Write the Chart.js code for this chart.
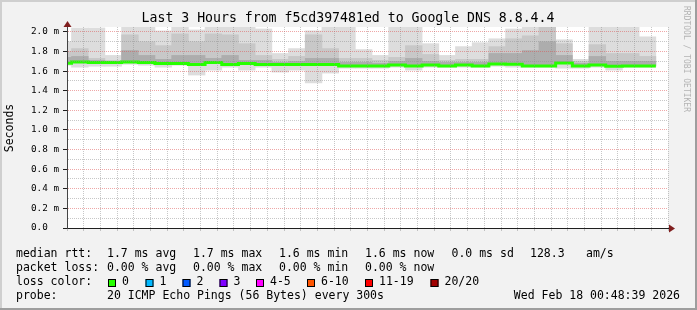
<!DOCTYPE html>
<html>
<head>
<meta charset="utf-8">
<title>smokeping</title>
<script src="https://cdn.jsdelivr.net/npm/chart.js@4.4.1/dist/chart.umd.min.js"></script>
<style>
  html, body { margin: 0; padding: 0; background: #f2f2f2; }
  canvas { display: block; }
</style>
</head>
<body>
<canvas id="smoke" width="697" height="310"></canvas>
<script>
// start of each 5 min step, in minutes after 21:00
const colStart = [45, 50, 55, 60, 65, 70, 75, 80, 85, 90, 95, 100, 105, 110, 115, 120, 125, 130,
                  135, 140, 145, 150, 155, 160, 165, 170, 175, 180, 185, 190, 195, 200, 205, 210, 215, 220];

// smoke (ms): outer band top/bottom, inner bands top, median rtt
const smokeMax = [1.90, 2.04, 2.04, 1.76, 2.05, 2.05, 2.01, 2.05, 2.02, 2.05, 2.05, 2.05, 2.03, 1.78, 1.83, 2.01, 2.05, 2.05,
                  1.82, 1.76, 2.05, 2.05, 1.88, 1.76, 1.85, 1.89, 1.93, 2.03, 2.05, 2.05, 1.92, 1.72, 2.05, 2.05, 2.05, 1.95];
const smokeMin = [1.66, 1.64, 1.65, 1.65, 1.67, 1.66, 1.64, 1.66, 1.56, 1.61, 1.64, 1.61, 1.64, 1.59, 1.61, 1.48, 1.58, 1.63,
                  1.63, 1.63, 1.64, 1.61, 1.64, 1.64, 1.64, 1.64, 1.65, 1.64, 1.64, 1.64, 1.63, 1.63, 1.64, 1.61, 1.64, 1.64];
const smokeMid = [1.80, 1.83, 1.73, 1.71, 1.97, 1.90, 1.86, 1.98, 1.90, 1.98, 1.97, 1.88, 1.76, 1.72, 1.75, 1.97, 1.83, 1.73,
                  1.73, 1.71, 1.74, 1.86, 1.77, 1.71, 1.72, 1.72, 1.85, 1.93, 1.96, 2.05, 1.88, 1.70, 1.87, 1.78, 1.78, 1.75];
const smokeDark = [1.74, 1.75, 1.71, 1.70, 1.81, 1.76, 1.72, 1.76, 1.76, 1.73, 1.76, 1.71, 1.71, 1.69, 1.70, 1.73, 1.73, 1.69,
                   1.69, 1.68, 1.70, 1.73, 1.70, 1.69, 1.69, 1.69, 1.78, 1.78, 1.81, 1.90, 1.76, 1.68, 1.75, 1.70, 1.70, 1.70];
const medianRtt = [1.680, 1.694, 1.687, 1.687, 1.694, 1.687, 1.677, 1.677, 1.668, 1.687, 1.668, 1.677, 1.668, 1.668, 1.668, 1.668, 1.668, 1.653,
                   1.653, 1.653, 1.663, 1.653, 1.663, 1.653, 1.663, 1.653, 1.673, 1.670, 1.653, 1.653, 1.684, 1.653, 1.663, 1.650, 1.653, 1.653];

const xTickLabels = ['22:00', '22:20', '22:40', '23:00', '23:20', '23:40', '00:00', '00:20', '00:40'];
const yTickLabels = ['0.0  ', '0.2 m', '0.4 m', '0.6 m', '0.8 m', '1.0 m', '1.2 m', '1.4 m', '1.6 m', '1.8 m', '2.0 m'];

const rttStats = ['1.7 ms avg', '1.7 ms max', '1.6 ms min', '1.6 ms now', '0.0 ms sd', '128.3', 'am/s'];
const lossStats = ['0.00 % avg', '0.00 % max', '0.00 % min', '0.00 % now'];
const lossLabels = ['0', '1', '2', '3', '4-5', '6-10', '11-19', '20/20'];
const lossColors = ['#26ff00', '#00b8ff', '#0059ff', '#7e00ff', '#ff00ff', '#ff5500', '#ff0000', '#a10000'];

const MONO = "'DejaVu Sans Mono', monospace";
const T_MIN = 48.65, T_MAX = 228.65;   // 21:48:39 .. 00:48:39
const MGRID = 'rgba(222,79,79,0.5)';
const GRID = 'rgba(143,143,143,0.5)';

function band(lo, hi) {
    return colStart.map((t, i) => ({ x: t + 2.5, y: [lo[i], hi[i]] }));
}

const medianPts = colStart.map((t, i) => ({ x: t, y: medianRtt[i] }));
medianPts.push({ x: colStart[colStart.length - 1] + 5, y: medianRtt[medianRtt.length - 1] });

const barStyle = { type: 'bar', grouped: false, barPercentage: 1, categoryPercentage: 1, borderWidth: 0, clip: 0 };

// background, frame and all the rrdtool text
const rrdDecor = {
    id: 'rrdDecor',
    beforeDraw(chart) {
        const { ctx, chartArea: a } = chart;
        ctx.save();
        ctx.fillStyle = '#f2f2f2';
        ctx.fillRect(0, 0, 697, 310);
        ctx.fillStyle = '#cfcfcf';
        ctx.fillRect(0, 0, 697, 2);
        ctx.fillRect(0, 0, 2, 310);
        ctx.fillStyle = '#9e9e9e';
        ctx.fillRect(0, 308, 697, 2);
        ctx.fillRect(695, 0, 2, 310);
        ctx.fillStyle = '#ffffff';
        ctx.fillRect(a.left, a.top, a.right - a.left, a.bottom - a.top);
        ctx.restore();
    },
    afterDraw(chart) {
        const { ctx, chartArea: a } = chart;
        ctx.save();
        ctx.fillStyle = '#000';
        ctx.textBaseline = 'middle';

        ctx.font = '13.2px ' + MONO;
        ctx.textAlign = 'center';
        ctx.fillText('Last 3 Hours from f5cd397481ed to Google DNS 8.8.4.4', 348, 19);

        ctx.save();
        ctx.font = '11.5px ' + MONO;
        ctx.translate(10, 128);
        ctx.rotate(-Math.PI / 2);
        ctx.fillText('Seconds', 0, 0);
        ctx.restore();

        ctx.save();
        ctx.font = '8px ' + MONO;
        ctx.fillStyle = '#b4b4b4';
        ctx.translate(686, 59);
        ctx.rotate(Math.PI / 2);
        ctx.fillText('RRDTOOL / TOBI OETIKER', 0, 0);
        ctx.restore();

        // arrows
        ctx.fillStyle = '#801f1f';
        ctx.beginPath();
        ctx.moveTo(a.right + 1, a.bottom - 3.5);
        ctx.lineTo(a.right + 7, a.bottom + 0.5);
        ctx.lineTo(a.right + 1, a.bottom + 4.5);
        ctx.fill();
        ctx.beginPath();
        ctx.moveTo(a.left - 3.5, a.top);
        ctx.lineTo(a.left + 0.5, a.top - 6);
        ctx.lineTo(a.left + 4.5, a.top);
        ctx.fill();

        // legend
        ctx.fillStyle = '#000';
        ctx.textAlign = 'left';
        ctx.font = '11.5px ' + MONO;
        const statX = [107, 193, 279, 365, 451.5, 530, 586];
        ctx.fillText('median rtt:', 16, 254);
        rttStats.forEach((s, i) => ctx.fillText(s, statX[i], 254));
        ctx.fillText('packet loss:', 16, 268);
        lossStats.forEach((s, i) => ctx.fillText(s, statX[i], 268));
        ctx.fillText('loss color:', 16, 282.5);
        const boxX = [108, 145.5, 182.5, 219.5, 256, 307, 365, 430.5];
        lossLabels.forEach((s, i) => {
            ctx.fillStyle = lossColors[i];
            ctx.fillRect(boxX[i], 279, 8, 8);
            ctx.strokeStyle = '#000';
            ctx.lineWidth = 1;
            ctx.strokeRect(boxX[i] + 0.5, 279.5, 7, 7);
            ctx.fillStyle = '#000';
            ctx.fillText(s, boxX[i] + 14, 282.5);
        });
        ctx.fillText('probe:', 16, 296);
        ctx.fillText('20 ICMP Echo Pings (56 Bytes) every 300s', 107, 296);
        ctx.textAlign = 'right';
        ctx.fillText('Wed Feb 18 00:48:39 2026', 680, 296);
        ctx.restore();
    }
};

new Chart(document.getElementById('smoke'), {
    type: 'bar',
    data: {
        datasets: [
            { ...barStyle, label: 'smoke', data: band(smokeMin, smokeMax), backgroundColor: '#dddddd', order: 4 },
            { ...barStyle, label: 'smoke mid', data: band(medianRtt, smokeMid), backgroundColor: '#c8c8c8', order: 3 },
            { ...barStyle, label: 'smoke core', data: band(medianRtt, smokeDark), backgroundColor: '#adadad', order: 2 },
            {
                type: 'line', label: 'median rtt', data: medianPts, stepped: 'before',
                borderColor: '#26ff00', borderWidth: 3, pointRadius: 0, fill: false, clip: 0, order: 1
            }
        ]
    },
    options: {
        responsive: false,
        animation: false,
        events: [],
        layout: { padding: { left: 0, top: 27, right: 29, bottom: 62 } },
        plugins: { legend: { display: false }, tooltip: { enabled: false }, title: { display: false } },
        scales: {
            x: {
                type: 'linear',
                min: T_MIN,
                max: T_MAX,
                offset: false,
                afterFit: s => { s.height = 20; },
                grid: {
                    offset: false,
                    z: 1,
                    color: c => c.tick && c.tick.value % 20 === 0 ? MGRID : GRID,
                    tickColor: c => c.tick && c.tick.value % 20 === 0 ? '#1f1f1f' : GRID,
                    tickLength: 3
                },
                border: { display: true, color: '#1f1f1f', width: 1, dash: [1, 1], z: 2 },
                ticks: {
                    stepSize: 5,
                    includeBounds: false,
                    autoSkip: false,
                    maxRotation: 0,
                    padding: 2,
                    color: '#000',
                    font: { family: MONO, size: 9.3 },
                    callback: v => (v % 20 === 0 && v >= 60) ? xTickLabels[(v - 60) / 20] : ''
                }
            },
            y: {
                type: 'linear',
                min: 0,
                max: 2.05,
                afterFit: s => { s.width = 67; },
                grid: {
                    z: 1,
                    color: c => Math.round(c.tick.value * 10) % 2 === 0 ? MGRID : GRID,
                    tickColor: c => Math.round(c.tick.value * 10) % 2 === 0 ? '#1f1f1f' : 'transparent',
                    tickLength: 4
                },
                border: { display: true, color: '#444', width: 1, dash: [1, 1], z: 2 },
                ticks: {
                    stepSize: 0.1,
                    includeBounds: false,
                    autoSkip: false,
                    padding: 4,
                    color: '#000',
                    font: { family: MONO, size: 9.3 },
                    callback: v => {
                        const k = Math.round(v * 10);
                        return k % 2 ? '' : yTickLabels[k / 2];
                    }
                }
            }
        }
    },
    plugins: [rrdDecor]
});
</script>
</body>
</html>
